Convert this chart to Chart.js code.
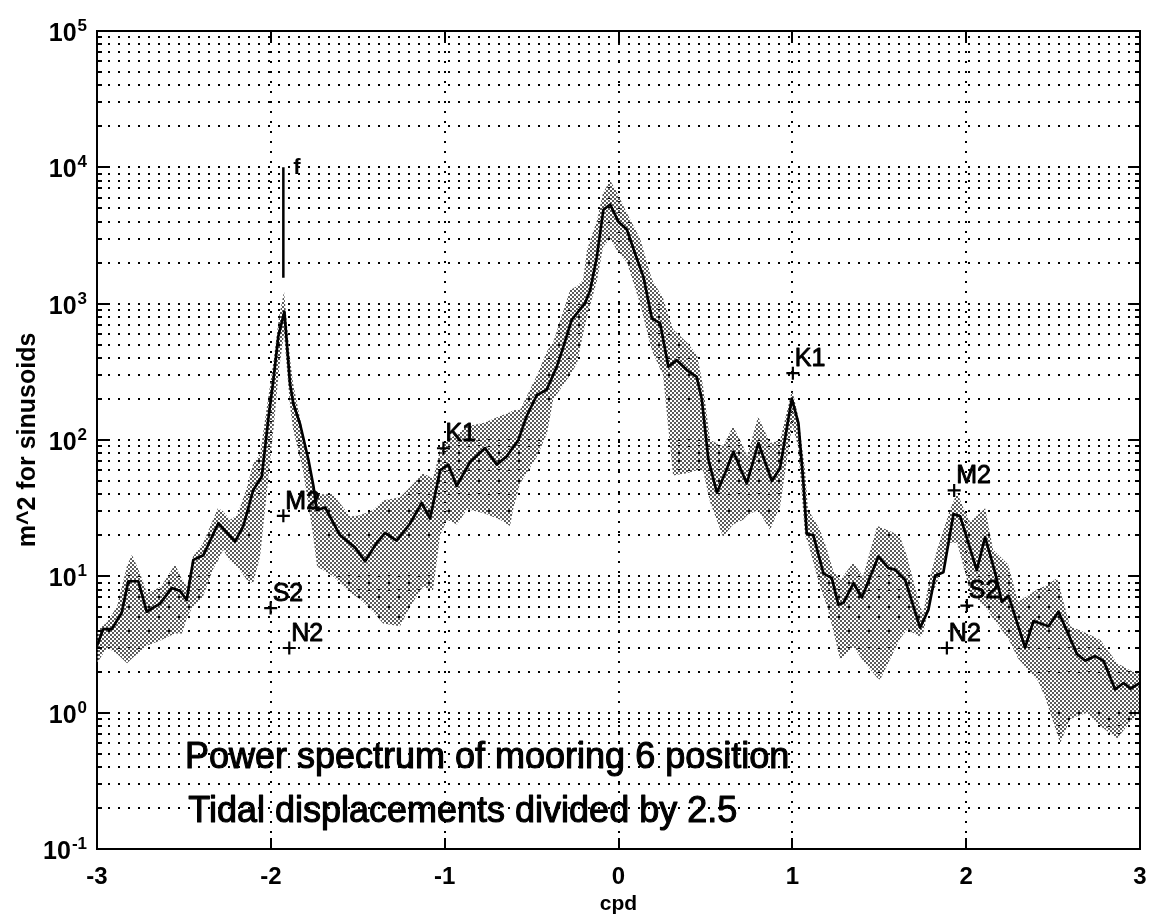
<!DOCTYPE html>
<html>
<head>
<meta charset="utf-8">
<script src="https://cdn.jsdelivr.net/npm/chart.js@4.4.1/dist/chart.umd.min.js"></script>
<style>
html,body{margin:0;padding:0;background:#fff;}
canvas{display:block;}
</style>
</head>
<body>
<canvas id="c" width="1151" height="921"></canvas>
<script>
// ---------- data ----------
const lineX = [-3.000,-2.964,-2.915,-2.858,-2.820,-2.762,-2.714,-2.638,-2.570,-2.522,-2.484,-2.446,-2.388,-2.302,-2.206,-2.158,-2.101,-2.052,-2.014,-1.986,-1.957,-1.922,-1.890,-1.871,-1.832,-1.784,-1.755,-1.736,-1.688,-1.650,-1.602,-1.516,-1.458,-1.391,-1.343,-1.276,-1.199,-1.132,-1.084,-1.026,-0.979,-0.931,-0.854,-0.768,-0.700,-0.643,-0.576,-0.528,-0.470,-0.413,-0.355,-0.317,-0.269,-0.192,-0.163,-0.125,-0.087,-0.048,0.000,0.048,0.095,0.143,0.192,0.239,0.287,0.335,0.393,0.450,0.479,0.517,0.566,0.613,0.661,0.738,0.805,0.882,0.929,0.997,1.035,1.064,1.083,1.121,1.179,1.227,1.265,1.294,1.352,1.400,1.495,1.553,1.591,1.649,1.735,1.783,1.821,1.869,1.927,1.965,2.061,2.109,2.167,2.205,2.244,2.339,2.387,2.474,2.531,2.637,2.685,2.742,2.790,2.857,2.905,2.946,3.000];
const lineY = [3.1,4.1,4.1,5.4,9.2,9.2,5.5,6.3,8.2,7.8,6.7,13.2,14.3,24.5,18,23.4,43,54,144,270,575,875,261,186,131,72,46,30.6,32,26,20,16.3,12.9,17.6,20.8,18.3,24.4,34.5,26.5,60,66,46,69,87,66,76,100,150,213,234,345,484,762,1010,1255,2190,4880,5340,3980,3500,2340,1580,780,720,345,385,326,290,200,72,41,57,82,48,95,50,62,201,133,48,20.5,20,10.5,9.7,6.2,6.4,8.9,7.0,14,11.5,11.2,9.4,4.2,5.7,10.1,10.7,28.6,27.6,11.1,19.4,10.6,6.5,7.2,3.0,4.7,4.3,5.5,2.7,2.4,2.6,2.4,1.48,1.65,1.5,1.65];

const bandX = [-3.000,-2.942,-2.885,-2.827,-2.799,-2.753,-2.712,-2.632,-2.551,-2.511,-2.482,-2.448,-2.390,-2.333,-2.304,-2.275,-2.235,-2.194,-2.137,-2.102,-2.062,-2.016,-1.982,-1.953,-1.924,-1.890,-1.872,-1.815,-1.757,-1.734,-1.642,-1.544,-1.487,-1.412,-1.354,-1.257,-1.199,-1.124,-1.067,-1.026,-0.986,-0.929,-0.871,-0.773,-0.681,-0.624,-0.606,-0.566,-0.468,-0.411,-0.376,-0.279,-0.238,-0.204,-0.181,-0.123,-0.089,-0.048,-0.008,0.049,0.124,0.193,0.256,0.314,0.394,0.452,0.486,0.527,0.601,0.659,0.717,0.740,0.803,0.872,0.930,0.999,1.033,1.073,1.090,1.159,1.200,1.235,1.275,1.350,1.407,1.488,1.505,1.580,1.620,1.660,1.735,1.753,1.793,1.833,1.908,1.948,1.983,2.023,2.109,2.155,2.242,2.299,2.414,2.454,2.523,2.541,2.598,2.696,2.771,2.869,2.943,3.000];
const bandUpper = [4.0,4.6,6.0,12,14.4,10.6,7.5,8.4,12.2,9.5,8.4,14,17.5,26,31.7,30,26,28,45,67,79,200,400,800,1230,400,261,112,46,40,40,27.5,28,30.7,36,38,45,57,52,85,100,110,126,134,150,160,165,167,300,450,520,1255,1350,1490,2500,4100,6500,8000,6500,4600,3000,1500,1100,650,520,420,250,100,90,126,90,76,149,95,100,235,150,60,31,22,15.7,11,9.4,12.6,10,23.4,23,21,19.4,14,6,5.4,10,15.7,31,41,32,25,31.6,15.7,12.2,6.5,8.1,8.5,9.7,8,4.3,3.8,3.43,2.3,2.05,1.9];
const bandLower = [2.3,3.0,2.7,2.3,2.5,2.8,3.1,3.4,3.8,3.8,5.0,6.0,7.1,11.2,13,15.7,13,11.8,9.4,8.9,14,50,130,330,600,180,120,60,20,11.8,10,7.6,6.8,5.5,4.5,4.3,6,8.4,7.9,20,26,24,31,29,26,23.4,31,48,76,112,197,300,365,600,803,1490,2600,3000,2440,2000,1000,450,300,55,57,60,60,35,19.5,24,26,28,30.7,22,33,130,90,20,17.6,8.4,6,4.0,2.44,3.06,2.4,1.8,1.74,2.74,3.5,4.06,3.6,3.8,6.8,9,17.6,17.6,12,7.6,6,4.9,3.5,2.5,1.7,1.3,0.7,0.6,0.9,1.0,0.8,0.65,0.85,1.0];

const tideNames = ['K1','M2','S2','N2','K1','M2','S2','N2'];
const tideX = [-1.007,-1.928,-2.001,-1.894,1.003,1.931,2.004,1.889];
const tideY = [87,27.8,5.85,2.98,309,42.7,6.1,2.98];

const fName = 'f';
const fX = [-1.928,-1.928];
const fY = [10000,1550];

const xTickValues = [-3,-2,-1,0,1,2,3];
const yDecadeExps = [-1,0,1,2,3,4,5];
const yMantissas = [1,2,3,4,5,6,7,8,9];

const noteTexts = ['Power spectrum of mooring 6 position','Tidal displacements divided by 2.5'];
const noteX = [-2.494,-2.475];
const noteY = [0.395,0.159];

const xTitle = 'cpd';
const yTitle = 'm^2 for sinusoids';

// ---------- chart ----------
const FONT = "'Liberation Sans', Arial, Helvetica, sans-serif";
Chart.defaults.font.family = FONT;
Chart.defaults.color = '#000';

const canvas = document.getElementById('c');
const ctx0 = canvas.getContext('2d');

function makeStipple(){
  const t = document.createElement('canvas');
  t.width = 4; t.height = 4;
  const g = t.getContext('2d');
  g.fillStyle = '#5a5a5a';
  g.fillRect(0,0,2,2);
  g.fillRect(2,2,2,2);
  return ctx0.createPattern(t,'repeat');
}

const yTickValues = [];
yDecadeExps.forEach(e => {
  yMantissas.forEach(m => {
    if (e === 5 && m > 1) return;
    yTickValues.push(parseFloat((m * Math.pow(10, e)).toPrecision(6)));
  });
});

const pts = (xs, ys) => xs.map((x, i) => ({x: x, y: ys[i]}));

function heavyText(ctx, s, x, y, w){
  ctx.fillText(s, x, y);
  ctx.lineWidth = w;
  ctx.strokeText(s, x, y);
}

const overlay = {
  id: 'overlay',
  afterDraw(chart){
    const ctx = chart.ctx, ca = chart.chartArea;
    const xs = chart.scales.x, ys = chart.scales.y;
    ctx.save();
    ctx.strokeStyle = '#000';
    ctx.fillStyle = '#000';
    ctx.lineWidth = 2;
    // top and right box lines
    ctx.beginPath();
    ctx.moveTo(ca.left, ca.top); ctx.lineTo(ca.right, ca.top); ctx.lineTo(ca.right, ca.bottom);
    ctx.stroke();
    // inward tick marks
    ctx.beginPath();
    xs.ticks.forEach(t => {
      const px = Math.round(xs.getPixelForValue(t.value));
      ctx.moveTo(px, ca.bottom); ctx.lineTo(px, ca.bottom - 11);
      ctx.moveTo(px, ca.top); ctx.lineTo(px, ca.top + 11);
    });
    ys.ticks.forEach(t => {
      const py = Math.round(ys.getPixelForValue(t.value));
      const lg = Math.log10(t.value);
      const len = Math.abs(lg - Math.round(lg)) < 1e-6 ? 11 : 5;
      ctx.moveTo(ca.left, py); ctx.lineTo(ca.left + len, py);
      ctx.moveTo(ca.right, py); ctx.lineTo(ca.right - len, py);
    });
    ctx.stroke();
    // y decade labels 10^n
    const rightEdge = ca.left - 10;
    ctx.lineJoin = 'round';
    yDecadeExps.forEach(e => {
      const py = ys.getPixelForValue(Math.pow(10, e));
      const expStr = String(e);
      ctx.font = 'bold 17px ' + FONT;
      const ew = ctx.measureText(expStr).width;
      ctx.font = 'bold 25px ' + FONT;
      const bw = ctx.measureText('10').width;
      ctx.textBaseline = 'alphabetic';
      ctx.textAlign = 'left';
      ctx.fillText('10', rightEdge - ew - bw - 1, py + 10);
      ctx.font = 'bold 17px ' + FONT;
      ctx.fillText(expStr, rightEdge - ew, py);
    });
    // tide constituent labels
    ctx.font = '25px ' + FONT;
    ctx.textBaseline = 'middle';
    ctx.textAlign = 'left';
    tideNames.forEach((n, i) => {
      const px = xs.getPixelForValue(tideX[i]);
      const py = ys.getPixelForValue(tideY[i]);
      heavyText(ctx, n, px + 2, py - 14, 0.9);
    });
    // f label
    ctx.font = 'bold 22px ' + FONT;
    ctx.fillText(fName, xs.getPixelForValue(fX[0]) + 10, ys.getPixelForValue(fY[0]) + 1);
    // notes
    ctx.font = '36px ' + FONT;
    ctx.textBaseline = 'alphabetic';
    noteTexts.forEach((s, i) => {
      heavyText(ctx, s, xs.getPixelForValue(noteX[i]), ys.getPixelForValue(noteY[i]), 1.1);
    });
    ctx.restore();
  }
};

new Chart(canvas, {
  type: 'line',
  data: {
    datasets: [
      {label: 'band upper', data: pts(bandX, bandUpper), borderColor: 'rgba(0,0,0,0)', borderWidth: 0,
       pointRadius: 0, fill: '+1', backgroundColor: makeStipple(), order: 3, tension: 0},
      {label: 'band lower', data: pts(bandX, bandLower), borderColor: 'rgba(0,0,0,0)', borderWidth: 0,
       pointRadius: 0, fill: false, order: 3, tension: 0},
      {label: 'spectrum', data: pts(lineX, lineY), borderColor: '#000', borderWidth: 2.7,
       pointRadius: 0, fill: false, order: 1, tension: 0, borderJoinStyle: 'round'},
      {label: 'f', data: pts(fX, fY), borderColor: '#000', borderWidth: 2.5,
       pointRadius: 0, fill: false, order: 1},
      {label: 'tides', data: pts(tideX, tideY), showLine: false, pointStyle: 'cross',
       pointRadius: 6.5, pointBorderWidth: 2.2, pointBorderColor: '#000', borderColor: '#000', order: 0}
    ]
  },
  options: {
    responsive: false,
    devicePixelRatio: 1,
    animation: false,
    events: [],
    layout: {padding: {left: 13, right: 11, top: 31, bottom: 4}},
    plugins: {legend: {display: false}, tooltip: {enabled: false}},
    scales: {
      x: {
        type: 'linear', min: -3, max: 3,
        afterBuildTicks: s => { s.ticks = xTickValues.map(v => ({value: v})); },
        afterFit: s => { s.height = 68; s.paddingLeft = 0; s.paddingRight = 0; },
        grid: {color: '#000', lineWidth: 2, drawTicks: false},
        border: {display: true, color: '#000', width: 2, dash: [2, 8]},
        ticks: {color: '#000', font: {size: 24, weight: 'bold'}, padding: 14, maxRotation: 0, autoSkip: false},
        title: {display: true, text: xTitle, color: '#000', font: {size: 21, weight: 'bold'}, padding: {top: 0, bottom: 0}}
      },
      y: {
        type: 'logarithmic', min: 0.1, max: 100000,
        afterBuildTicks: s => { s.ticks = yTickValues.map(v => ({value: v})); },
        afterFit: s => { s.width = 84; },
        grid: {color: '#000', lineWidth: 2, drawTicks: false},
        border: {display: true, color: '#000', width: 2, dash: [2, 8]},
        ticks: {display: false},
        title: {display: true, text: yTitle, color: '#000', font: {size: 25, weight: 'bold'}, padding: 0}
      }
    }
  },
  plugins: [overlay]
});
</script>
</body>
</html>
